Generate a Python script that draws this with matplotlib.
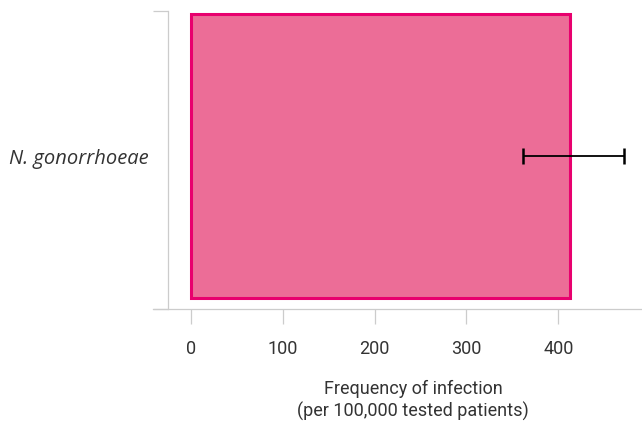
import matplotlib.pyplot as plt

# Data
categories = ["N. gonorrhoeae"]
frequency = [413]
err_low = [51]
err_high = [58]

fill_color = "#ec6d97"
edge_color = "#e8006e"
grid_grey = "#cccccc"
text_grey = "#333333"

plt.rcParams["font.family"] = ["Roboto", "DejaVu Sans"]

fig = plt.figure(figsize=(6.42, 4.34), dpi=100)
ax = fig.add_axes([153 / 642, 1 - 309 / 434, 489 / 642, 298 / 434])

ypos = list(range(len(categories)))
ax.barh(ypos, frequency, height=0.8, color=fill_color, edgecolor=edge_color,
        linewidth=2.2, zorder=2)
ax.errorbar(frequency, ypos, xerr=[err_low, err_high], fmt="none",
            ecolor="black", elinewidth=1.3, capsize=5.5, capthick=1.8, zorder=3)

ax.set_xlim(-41, 491)
ax.set_ylim(-0.431, 0.4085)

ax.set_xticks([0, 100, 200, 300, 400])
ax.set_yticks(ypos)
ax.set_yticklabels(categories)
ax.set_yticks([-0.431, 0.4085], minor=True)

for side in ["top", "right"]:
    ax.spines[side].set_visible(False)
ax.spines["left"].set_position(("data", -24.5))
for side in ["left", "bottom"]:
    ax.spines[side].set_color(grid_grey)
    ax.spines[side].set_linewidth(0.9)

ax.tick_params(axis="x", length=11, width=0.9, color=grid_grey, pad=11,
               labelsize=13, labelcolor=text_grey)
ax.tick_params(axis="y", which="major", length=0, pad=14, labelsize=13,
               labelcolor=text_grey)
ax.tick_params(axis="y", which="minor", length=11, width=0.9, color=grid_grey)

# italic species name
for lab in ax.get_yticklabels():
    lab.set_family(["Open Sans", "Lato", "DejaVu Sans"])
    lab.set_fontstyle("italic")
    lab.set_fontsize(14.5)

ax.set_xlabel("Frequency of infection\n(per 100,000 tested patients)",
              fontsize=13, color=text_grey, linespacing=1.25)
ax.xaxis.label.set_position(((413 - 153) / 489, 0))
ax.xaxis.labelpad = 16

fig.savefig("out.png", dpi=100)
